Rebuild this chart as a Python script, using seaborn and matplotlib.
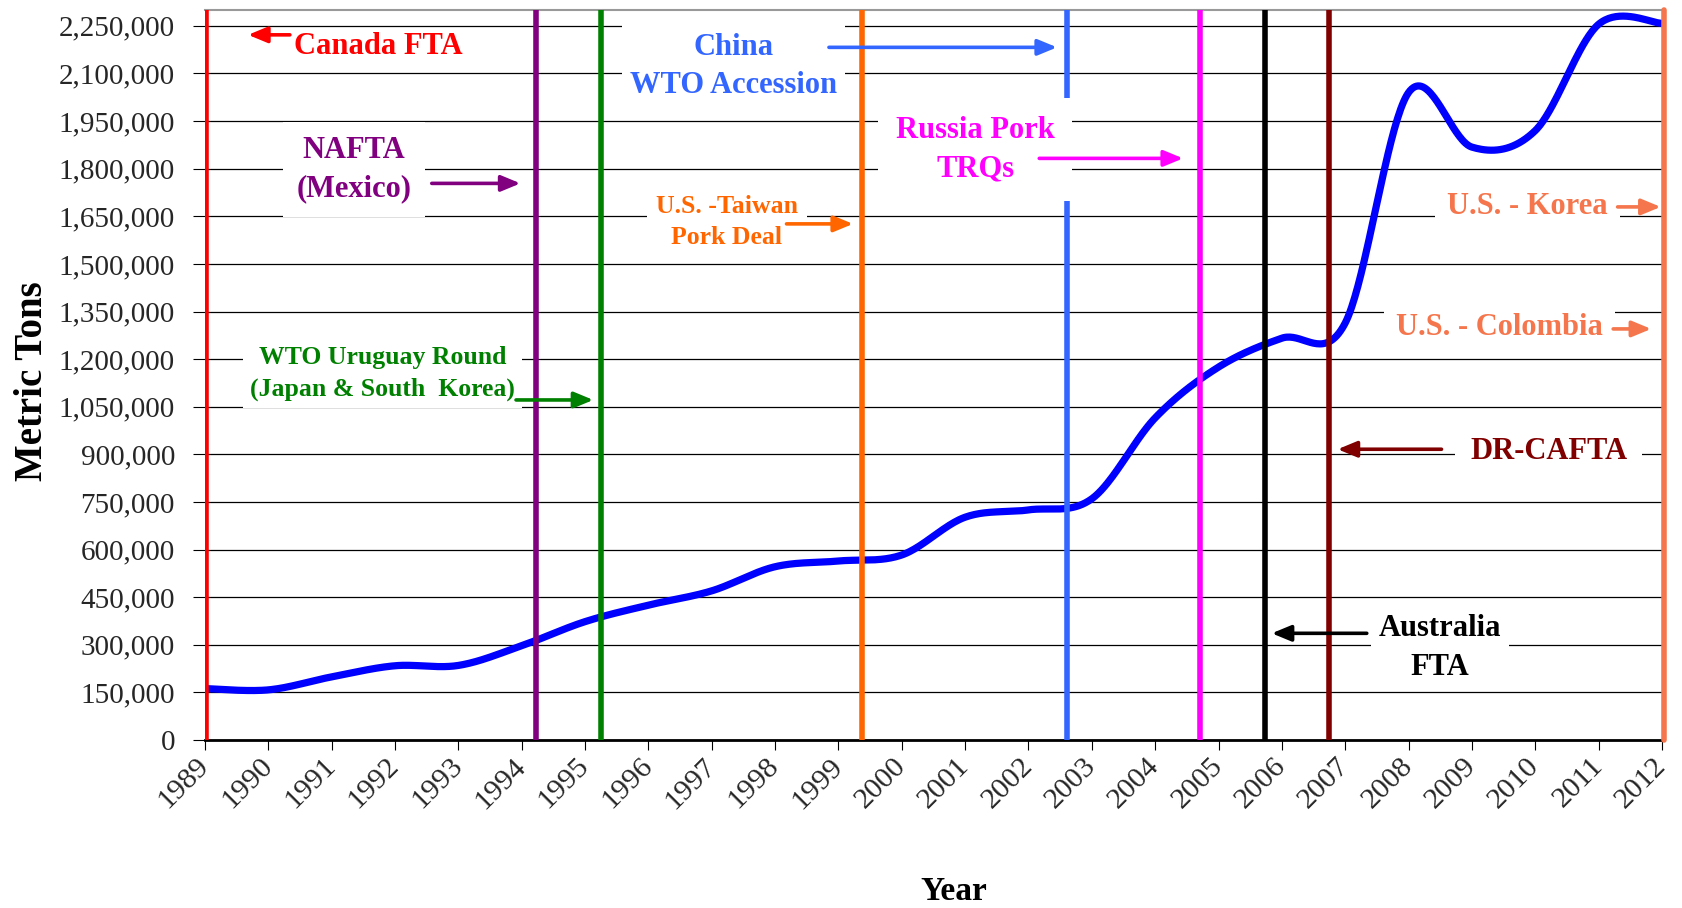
import numpy as np
import matplotlib
matplotlib.use("Agg")
import matplotlib.pyplot as plt
from matplotlib.ticker import FixedLocator, FuncFormatter
import seaborn as sns

# U.S. pork exports, metric tons
years = list(range(1989, 2013))
exports_mt = [162000, 158000, 199000, 234000, 235000, 297000, 373000, 425000,
              470000, 546000, 564000, 583000, 702000, 725000, 760000, 1015000,
              1175000, 1266000, 1314000, 2040000, 1868000, 1920000, 2255000,
              2258000]

# Trade agreements taking effect (fractional year)
event_keys = ["canada", "nafta", "uruguay", "taiwan", "china", "russia",
              "australia", "cafta", "korea_colombia"]
event_years = [1989.02, 1994.23, 1995.25, 1999.37, 2002.60, 2004.70,
               2005.74, 2006.75, 2012.03]

y_ticks = list(range(0, 2250001, 150000))
x_ticks = years

RED = "#FF0000"
PURPLE = "#800080"
GREEN = "#008000"
ORANGE = "#FF6600"
CBLUE = "#3366FF"
MAGENTA = "#FF00FF"
BLACK = "#000000"
MAROON = "#800000"
CORAL = "#F5764C"
event_colors = [RED, PURPLE, GREEN, ORANGE, CBLUE, MAGENTA, BLACK, MAROON, CORAL]

sns.set_theme(style="white")
plt.rcParams["font.family"] = ["Liberation Serif", "DejaVu Serif"]


def smooth_curve(xs, ys, n=40):
    """Bezier smoothing through every point (control arms = 1/6 of neighbour span)."""
    x = np.asarray(xs, float)
    y = np.asarray(ys, float)
    P = np.column_stack([x, y])
    Pp = np.vstack([P[:1], P, P[-1:]])
    t = np.linspace(0, 1, n, endpoint=False)[:, None]
    segs = []
    for i in range(len(P) - 1):
        j = i + 1
        p0, p3 = Pp[j], Pp[j + 1]
        c1 = p0 + (Pp[j + 1] - Pp[j - 1]) / 6.0
        c2 = p3 - (Pp[j + 2] - Pp[j]) / 6.0
        b = ((1 - t) ** 3) * p0 + 3 * ((1 - t) ** 2) * t * c1 \
            + 3 * (1 - t) * t ** 2 * c2 + t ** 3 * p3
        segs.append(b)
    segs.append(P[-1:])
    out = np.vstack(segs)
    return out[:, 0], out[:, 1]


fig = plt.figure(figsize=(16.83, 9.08), dpi=100)
ax = fig.add_axes([0.1218, 0.1850, 0.8657, 0.8040])

ax.set_xlim(1989, 2012)
ax.set_ylim(0, 2300000)

# horizontal gridlines
ax.yaxis.set_major_locator(FixedLocator(y_ticks))
ax.yaxis.grid(True, color="black", linewidth=0.9)
ax.xaxis.grid(False)
ax.set_axisbelow(True)

# data line
sx, sy = smooth_curve(years, exports_mt)
sns.lineplot(x=sx, y=sy, sort=False, estimator=None, color="#0000FF",
             linewidth=5.2, ax=ax, zorder=3)

# agreement markers
for ev, c in zip(event_years, event_colors):
    ax.axvline(ev, color=c, linewidth=4.0, zorder=4,
               clip_on=(ev < 2012))


def note(text, x, y, color, size, pad=None, ha="center"):
    kw = {}
    if pad is not None:
        kw["bbox"] = dict(boxstyle=f"square,pad={pad}", fc="white", ec="none")
    ax.text(x, y, text, color=color, fontsize=size, fontweight="bold",
            ha=ha, va="center", multialignment="center", zorder=6,
            linespacing=1.45, **kw)


def arrow(x0, x1, y, color):
    ax.annotate("", xy=(x1, y), xytext=(x0, y),
                arrowprops=dict(arrowstyle="-|>,head_length=0.58,head_width=0.24",
                                color=color, lw=2.6, mutation_scale=20,
                                shrinkA=0, shrinkB=0),
                zorder=7)


note("Canada FTA", 1991.73, 2185000, RED, 22)
arrow(1990.34, 1989.68, 2221700, RED)

note("NAFTA\n(Mexico)", 1991.35, 1797000, PURPLE, 22, pad=0.45)
arrow(1992.58, 1993.98, 1753700, PURPLE)

note("WTO Uruguay Round\n(Japan & South  Korea)", 1991.80, 1154900, GREEN, 18.5, pad=0.28)
arrow(1993.91, 1995.13, 1071400, GREEN)

note("U.S. -Taiwan\nPork Deal", 1997.24, 1632000, ORANGE, 18.5, pad=0.35)
arrow(1998.18, 1999.23, 1626100, ORANGE)

note("China\nWTO Accession", 1997.34, 2122000, CBLUE, 22, pad=0.25)
arrow(1998.85, 2002.45, 2182300, CBLUE)

note("Russia Pork\nTRQs", 2001.16, 1860000, MAGENTA, 22, pad=0.57)
arrow(2002.17, 2004.44, 1832500, MAGENTA)

note("U.S. - Korea", 2009.88, 1680600, CORAL, 22, pad=0.4)
arrow(2011.30, 2011.98, 1679600, CORAL)

note("U.S. - Colombia", 2009.43, 1298300, CORAL, 22, pad=0.4)
arrow(2011.23, 2011.83, 1295200, CORAL)

note("DR-CAFTA", 2010.21, 908500, MAROON, 22, pad=0.5)
arrow(2008.52, 2006.88, 916100, MAROON)

note("Australia\nFTA", 2008.50, 289000, BLACK, 22, pad=0.25)
arrow(2007.34, 2005.84, 336200, BLACK)

# axes styling
ax.xaxis.set_major_locator(FixedLocator(x_ticks))
ax.set_xticklabels([str(v) for v in x_ticks])
ax.yaxis.set_major_formatter(FuncFormatter(lambda v, p: f"{int(v):,}"))
ax.tick_params(axis="x", direction="out", length=7, width=0.8, color="black",
               labelsize=21.5, pad=9, bottom=True)
ax.tick_params(axis="y", direction="out", length=8.6, width=0.8, color="black",
               labelsize=21, pad=13, left=True)
for lab in ax.get_xticklabels():
    lab.set_rotation(45)
    lab.set_ha("right")
    lab.set_va("center")
    lab.set_rotation_mode("anchor")

for side in ("left", "right"):
    ax.spines[side].set_visible(False)
ax.spines["top"].set_color("#999999")
ax.spines["top"].set_linewidth(1.5)
ax.spines["bottom"].set_color("black")
ax.spines["bottom"].set_linewidth(2.0)

ax.set_xlabel("Year", fontsize=24, fontweight="bold", color="black")
ax.set_ylabel("Metric Tons", fontsize=28, fontweight="bold", color="black")
ax.xaxis.set_label_coords(0.514, -0.207)
ax.xaxis.label.set_va("center")
ax.yaxis.set_label_coords(-0.1187, 0.492)
ax.yaxis.label.set_va("center")

fig.savefig("out.png", dpi=100, facecolor="white")
